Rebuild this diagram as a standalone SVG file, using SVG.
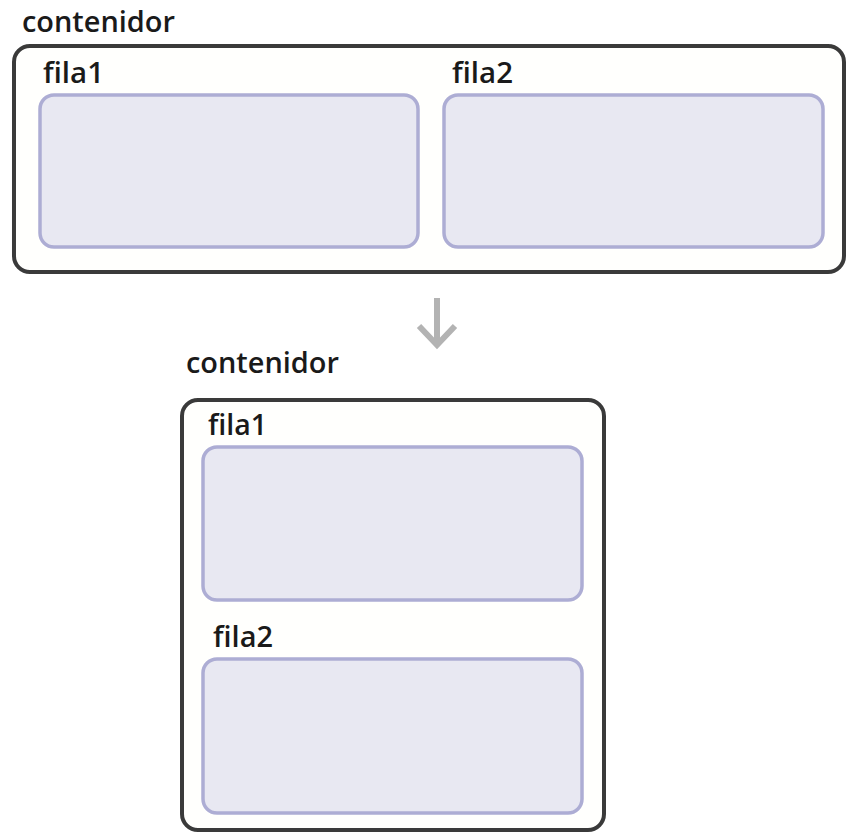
<svg xmlns="http://www.w3.org/2000/svg" width="848" height="834" viewBox="0 0 848 834">
<style>
.outer{fill:#fffffd;stroke:#3a3a3a;stroke-width:4}
.inner{fill:#e8e8f2;stroke:#adadd4;stroke-width:3.5}
.lbl{font-family:"Open Sans","Liberation Sans",sans-serif;font-size:28px;font-weight:600;fill:#1a1a1a}
.arrow{fill:none;stroke:#b3b3b3;stroke-width:6}
</style>
<rect width="848" height="834" fill="#ffffff"/>
<g id="contenidor-top">
<text class="lbl" x="22" y="32" textLength="153" lengthAdjust="spacingAndGlyphs">contenidor</text>
<rect class="outer" x="14" y="46" width="830" height="226" rx="16"/>
</g>
<g id="fila1-top">
<text class="lbl" x="43" y="83" textLength="61" lengthAdjust="spacingAndGlyphs">fila1</text>
<rect class="inner" x="40" y="95" width="378" height="152" rx="14"/>
</g>
<g id="fila2-top">
<text class="lbl" x="452" y="83" textLength="61" lengthAdjust="spacingAndGlyphs">fila2</text>
<rect class="inner" x="444" y="95" width="379" height="152" rx="14"/>
</g>
<g id="connectors">
<path class="arrow" d="M437 298 V345 M419 326 L437 345 L455 326"/>
</g>
<g id="contenidor-bottom">
<text class="lbl" x="186" y="373" textLength="153" lengthAdjust="spacingAndGlyphs">contenidor</text>
<rect class="outer" x="182" y="400" width="422" height="430" rx="16"/>
</g>
<g id="fila1-bottom">
<text class="lbl" x="208" y="435" textLength="59" lengthAdjust="spacingAndGlyphs">fila1</text>
<rect class="inner" x="203" y="447" width="379" height="153" rx="14"/>
</g>
<g id="fila2-bottom">
<text class="lbl" x="213" y="647" textLength="60" lengthAdjust="spacingAndGlyphs">fila2</text>
<rect class="inner" x="203" y="659" width="379" height="154" rx="14"/>
</g>
</svg>
